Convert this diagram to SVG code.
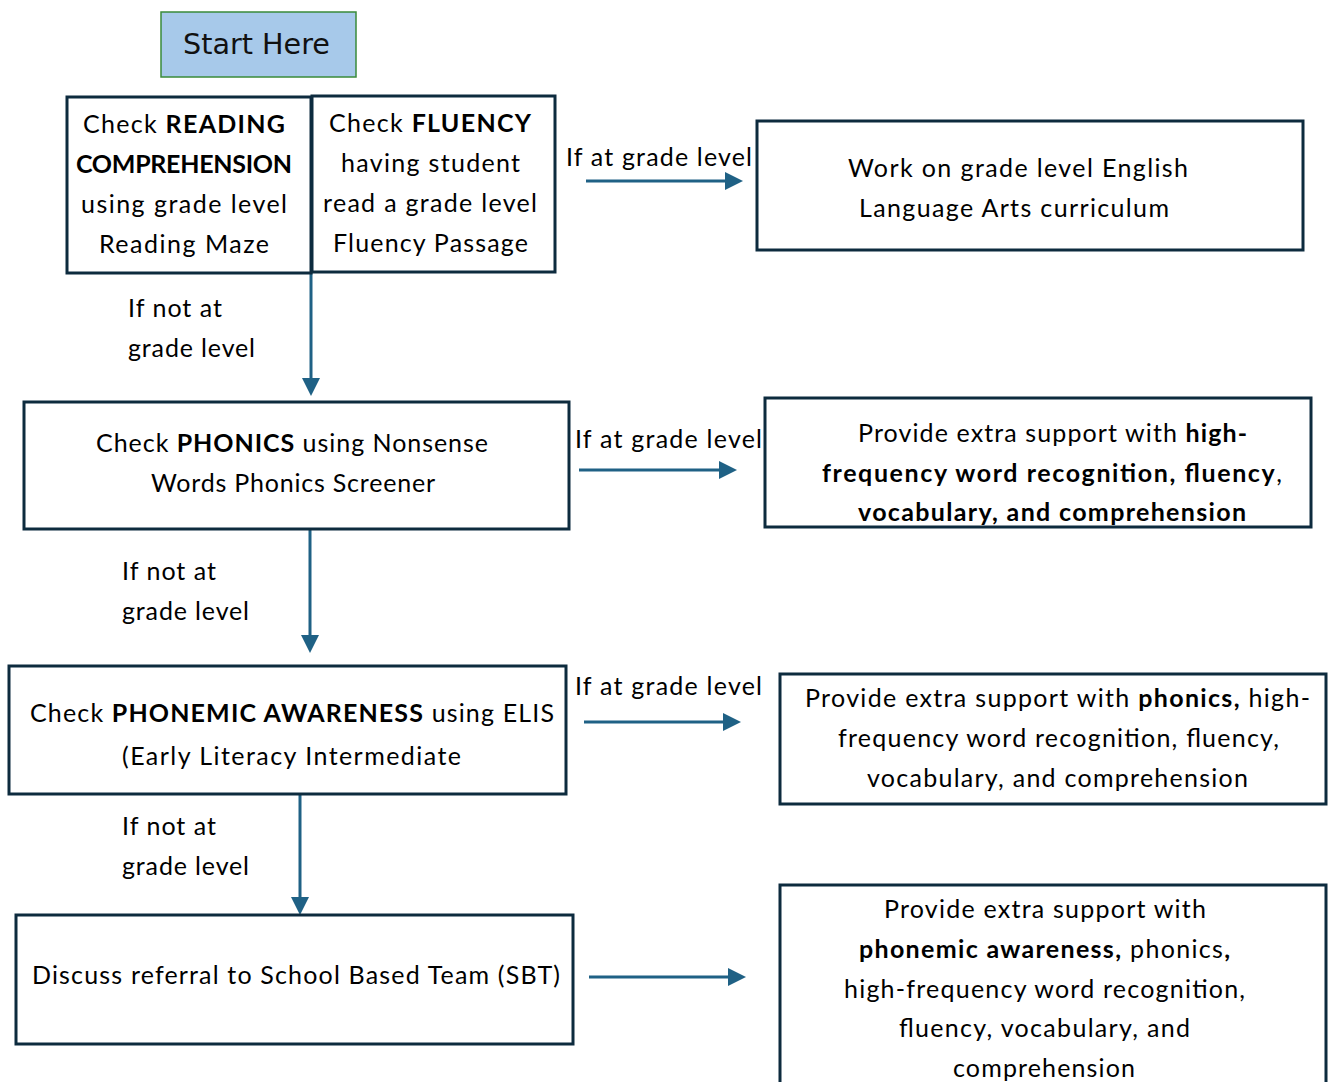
<svg xmlns="http://www.w3.org/2000/svg" width="1332" height="1082" viewBox="0 0 1332 1082">
<style>
.box{fill:#fff;stroke:#0d2b3e;stroke-width:3}
.t{font-family:Lato,"Open Sans","Liberation Sans",sans-serif;font-size:25px;fill:#000}
.b{font-weight:700}
.c{stroke:#1f6185;stroke-width:3;fill:none}
</style>
<defs>
<marker id="ah" markerWidth="6" markerHeight="6" refX="4" refY="3" orient="auto" markerUnits="strokeWidth">
<path d="M0,0 L6,3 L0,6 z" fill="#1f6185"/>
</marker>
</defs>
<rect width="1332" height="1082" fill="#fff"/>

<g id="start">
<rect x="161" y="12" width="195" height="65" fill="#a7c9ea" stroke="#3a8a3a" stroke-width="1.5"/>
<text x="183" y="54" font-family="'DejaVu Sans','Liberation Sans',sans-serif" font-size="29" textLength="147" lengthAdjust="spacingAndGlyphs" fill="#111">Start Here</text>
</g>

<g id="connectors">
<line class="c" x1="586" y1="181" x2="737" y2="181" marker-end="url(#ah)"/>
<line class="c" x1="311" y1="273" x2="311" y2="390" marker-end="url(#ah)"/>
<line class="c" x1="579" y1="470" x2="731" y2="470" marker-end="url(#ah)"/>
<line class="c" x1="310" y1="529" x2="310" y2="647" marker-end="url(#ah)"/>
<line class="c" x1="584" y1="722" x2="735" y2="722" marker-end="url(#ah)"/>
<line class="c" x1="300" y1="794" x2="300" y2="909" marker-end="url(#ah)"/>
<line class="c" x1="589" y1="977" x2="740" y2="977" marker-end="url(#ah)"/>
<text class="t" x="566" y="166" textLength="186">If at grade level</text>
<text class="t" x="128" y="317" textLength="94">If not at</text>
<text class="t" x="128" y="357" textLength="127">grade level</text>
<text class="t" x="575" y="448" textLength="187">If at grade level</text>
<text class="t" x="122" y="580" textLength="94">If not at</text>
<text class="t" x="122" y="620" textLength="127">grade level</text>
<text class="t" x="575" y="695" textLength="187">If at grade level</text>
<text class="t" x="122" y="835" textLength="94">If not at</text>
<text class="t" x="122" y="875" textLength="127">grade level</text>
</g>

<g id="reading">
<rect class="box" x="67" y="97" width="244" height="176"/>
<text class="t" x="83" y="133" textLength="202">Check <tspan class="b">READING</tspan></text>
<text class="t b" x="76" y="173" textLength="216">COMPREHENSION</text>
<text class="t" x="81" y="213" textLength="206">using grade level</text>
<text class="t" x="99" y="253" textLength="170">Reading Maze</text>
</g>

<g id="fluency">
<rect class="box" x="312" y="96" width="243" height="176"/>
<text class="t" x="329" y="132" textLength="202">Check <tspan class="b">FLUENCY</tspan></text>
<text class="t" x="341" y="172" textLength="179">having student</text>
<text class="t" x="323" y="212" textLength="214">read a grade level</text>
<text class="t" x="333" y="252" textLength="195">Fluency Passage</text>
</g>

<g id="gradelevel">
<rect class="box" x="757" y="121" width="546" height="129"/>
<text class="t" x="848" y="177" textLength="340">Work on grade level English</text>
<text class="t" x="859" y="217" textLength="310">Language Arts curriculum</text>
</g>

<g id="phonics">
<rect class="box" x="24" y="402" width="545" height="127"/>
<text class="t" x="96" y="452" textLength="392">Check <tspan class="b">PHONICS</tspan> using Nonsense</text>
<text class="t" x="151" y="492" textLength="284">Words Phonics Screener</text>
</g>

<g id="support1">
<rect class="box" x="765" y="398" width="546" height="129"/>
<text class="t" x="858" y="442" textLength="389">Provide extra support with <tspan class="b">high-</tspan></text>
<text class="t b" x="822" y="482" textLength="460">frequency  word recognition,  fluency<tspan font-weight="400">,</tspan></text>
<text class="t b" x="858" y="521" textLength="388">vocabulary, and comprehension</text>
</g>

<g id="phonemic">
<rect class="box" x="9" y="666" width="557" height="128"/>
<text class="t" x="30" y="722" textLength="524">Check  <tspan class="b">PHONEMIC AWARENESS</tspan>  using ELIS</text>
<text class="t" x="122" y="765" textLength="339">(Early Literacy Intermediate</text>
</g>

<g id="support2">
<rect class="box" x="780" y="674" width="546" height="130"/>
<text class="t" x="805" y="707" textLength="505">Provide extra support with <tspan class="b">phonics,</tspan>  high-</text>
<text class="t" x="838" y="747" textLength="441">frequency word recognition, fluency,</text>
<text class="t" x="867" y="787" textLength="381">vocabulary,  and comprehension</text>
</g>

<g id="sbt">
<rect class="box" x="16" y="915" width="557" height="129"/>
<text class="t" x="32" y="984" textLength="528">Discuss referral to School Based Team (SBT)</text>
</g>

<g id="support3">
<rect class="box" x="780" y="885" width="546" height="220"/>
<text class="t" x="884" y="918" textLength="322">Provide extra support with</text>
<text class="t" x="859" y="958" textLength="371"><tspan class="b">phonemic awareness,</tspan> phonics<tspan class="b">,</tspan></text>
<text class="t" x="844" y="998" textLength="401">high-frequency word recognition,</text>
<text class="t" x="899" y="1037" textLength="291">fluency, vocabulary,  and</text>
<text class="t" x="953" y="1077" textLength="182">comprehension</text>
</g>
</svg>
